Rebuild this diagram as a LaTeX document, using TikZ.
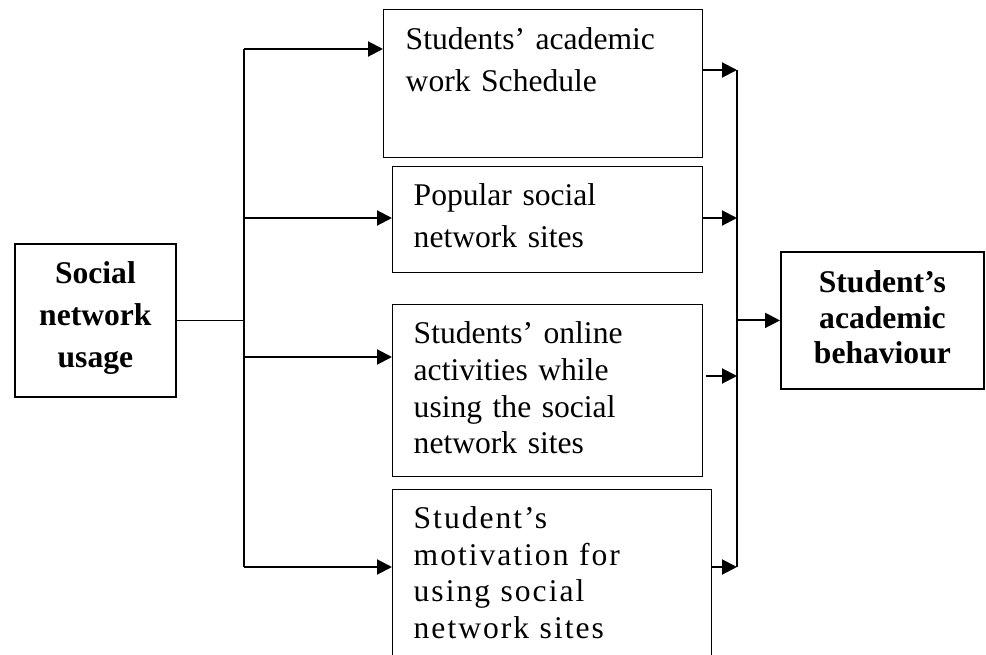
\documentclass[tikz,border=0pt]{standalone}
\usepackage{fontspec}
\setmainfont{Liberation Serif}
\newfontfamily\spacedfont[LetterSpace=6.3]{Liberation Serif}
\usetikzlibrary{arrows.meta}

\begin{document}
\begin{tikzpicture}[
    x=1pt, y=-1pt,
    factor/.style={rectangle, draw, line width=1.4pt, anchor=north west, align=left, inner xsep=21pt, inner ysep=0pt, font=\fontsize{31.6}{42}\selectfont},
    mainbox/.style={rectangle, draw, line width=1.8pt, anchor=north west, align=center, inner xsep=0pt, inner ysep=0pt, font=\bfseries\fontsize{31.6}{42}\selectfont},
    arrow/.style={line width=2pt, -{Triangle[length=15pt, width=15pt]}},
    link/.style={line width=2pt}
]
    \clip (0,0) rectangle (986,655);

    % Input and outcome
    \node (usage) [mainbox, text width=161pt, text height=40pt, text depth=113pt] at (14,243) {Social\\network\\usage};
    \node (behav) [mainbox, text width=203pt, text height=41pt, text depth=96pt, font=\bfseries\fontsize{31.6}{35.5}\selectfont] at (780,251) {Student’s\\academic\\behaviour};

    % Factor boxes
    \node (sched)   [factor, inner xsep=22pt, text width=275pt, text height=40pt, text depth=108pt] at (383,9) {Students’ academic\\work Schedule};
    \node (popular) [factor, text width=268pt, text height=39pt, text depth=67pt] at (392,166) {Popular social\\network sites};
    \node (online)  [factor, text width=268pt, text height=39pt, text depth=133pt, font=\fontsize{31.6}{36.7}\selectfont] at (392,304) {Students’ online\\activities while\\using the social\\network sites};
    \node (motiv)   [factor, text width=277pt, text height=39pt, text depth=141pt, font=\spacedfont\fontsize{31.6}{36.5}\selectfont] at (392,489) {Student’s\\motivation for\\using social\\network sites};

    % Left bus: usage fans out to the factors
    \coordinate (ltop) at (244,49);
    \coordinate (l2)   at (244,218);
    \coordinate (l3)   at (244,357);
    \coordinate (lbot) at (244,567);
    \draw [link] (ltop) -- (lbot);
    \draw [link, line width=1.4pt] (usage.east) -- (usage.east -| ltop);
    \draw [arrow] (ltop) -- (ltop -| sched.west);
    \draw [arrow] (l2) -- (l2 -| popular.west);
    \draw [arrow] (l3) -- (l3 -| online.west);
    \draw [arrow] (lbot) -- (lbot -| motiv.west);

    % Right bus: factors gather into behaviour
    \coordinate (rtop) at (737,70);
    \coordinate (r2)   at (737,218);
    \coordinate (r3)   at (737,376);
    \coordinate (rbot) at (737,567);
    \draw [link] (rtop) -- (rbot);
    \draw [arrow] (rtop -| sched.east) -- (rtop);
    \draw [arrow] (r2 -| popular.east) -- (r2);
    \draw [arrow] ([xshift=3pt]r3 -| online.east) -- (r3);
    \draw [arrow] (rbot -| motiv.east) -- (rbot);
    \draw [arrow] (behav.west -| rtop) -- (behav.west);

\end{tikzpicture}
\end{document}
